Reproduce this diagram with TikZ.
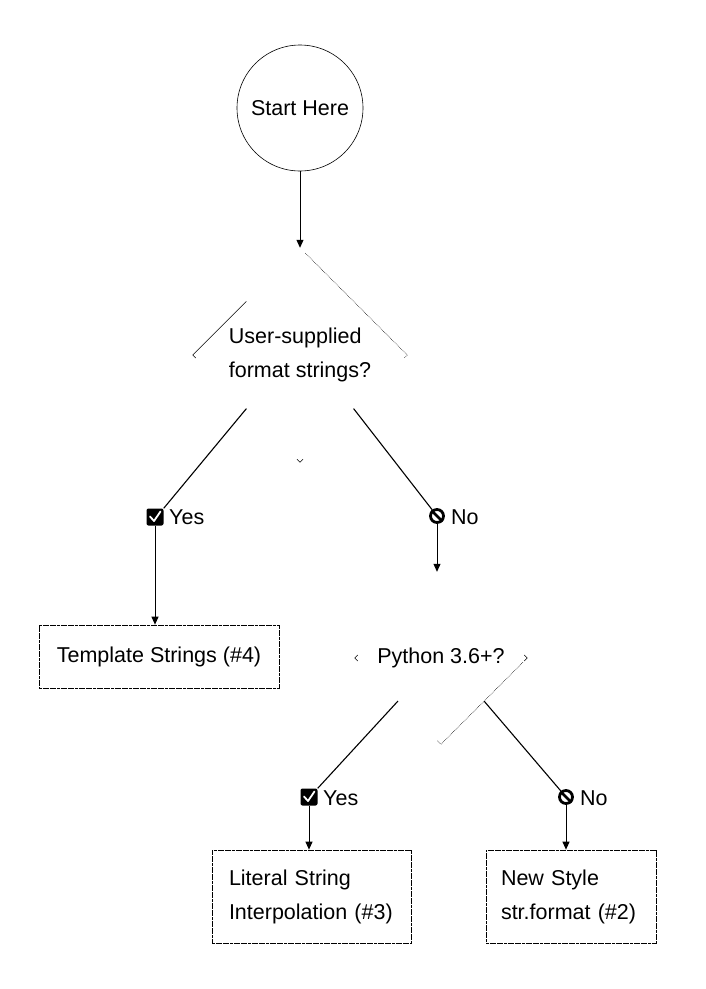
\documentclass[tikz,border=0pt]{standalone}
\usepackage{fontspec}
\setmainfont{Liberation Sans}
\usetikzlibrary{shapes.geometric,arrows.meta,calc}
\begin{document}
\begin{tikzpicture}[x=1pt,y=-1pt,
  txt/.style={font=\fontsize{21.5}{34}\selectfont},
  conn/.style={line width=1.1pt},
  arr/.style={line width=1pt,-{Triangle[length=8pt,width=7pt]}},
  frag/.style={line width=0.5pt},
  dots/.style={line width=0.6pt, densely dotted},
  res/.style={txt, draw, line width=0.7pt, dash pattern=on 3pt off 0.6pt, inner sep=0pt},
  yesicon/.style={fill=black, rounded corners=2pt, minimum size=17pt, inner sep=0pt},
  noicon/.style={circle, draw, line width=2.8pt, minimum size=13pt, inner sep=0pt},
  lbl/.style={txt, inner sep=0pt, anchor=west},
  dec/.style={txt, shape=diamond, inner sep=0pt, align=left},
  chk/.style={white, line width=1.8pt, line cap=round, line join=round},
  slash/.style={line width=2.8pt}
]
\useasboundingbox (0,0) rectangle (706,989);
% start
\node[txt, circle, draw, line width=0.6pt, minimum size=126pt, inner sep=0pt] (start) at (300,108) {Start Here};
% decisions (shape not drawn, only fragments)
\node[dec, minimum width=214pt, minimum height=214pt] (q1) at (300,355) {User-supplied\\format strings?};
\node[dec, minimum width=172pt, minimum height=172pt] (q2) at (441,658) {Python 3.6+?};
% results
\node[res, minimum width=240pt, minimum height=63pt] (t4) at (159,656.5) {Template Strings (\#4)};
\node[res, minimum width=199pt, minimum height=93pt, align=left, text width=165pt] (t3) at (311.5,896.5) {Literal String\\Interpolation (\#3)};
\node[res, minimum width=170pt, minimum height=93pt, align=left, text width=140pt] (t2) at (571,896.5) {New Style\\str.format (\#2)};
% edge labels
\node[yesicon] (y1) at (155,517) {};
\node[lbl] (y1t) at (169,517) {Yes};
\node[noicon] (n1) at (437,516) {};
\node[lbl] (n1t) at (451,517) {No};
\node[yesicon] (y2) at (309,797) {};
\node[lbl] (y2t) at (323,798) {Yes};
\node[noicon] (n2) at (566,797) {};
\node[lbl] (n2t) at (580,798) {No};
% icon details
\foreach \i in {y1,y2}
  \draw[chk] ($(\i.center)+(-5,-0.5)$) -- ++(4,4.5) -- ++(6.5,-9.5);
\foreach \i in {n1,n2}
  \draw[slash] (\i.135) -- (\i.-45);
% fragments of diamond q1
\draw[frag] ($(q1.west)+(3,3)$) -- (q1.west) -- (q1.north west);
\draw[dots] ($(q1.north)!0.05!(q1.east)$) -- (q1.east) -- ++(-3,3);
\draw[frag] ($(q1.south)+(-3,-3)$) -- (q1.south) -- ++(3,-3);
% fragments of diamond q2
\draw[frag] ($(q2.west)+(3,-3)$) -- (q2.west) -- ++(3,3);
\draw[frag] ($(q2.east)+(-3,-3)$) -- (q2.east) -- ++(-3,3);
\draw[dots] ($(q2.east)!0.05!(q2.south)$) -- (q2.south) -- ++(-4,-4);
% connectors
\draw[arr] (start) -- (q1);
\draw[conn] (q1.south west) -- (y1.north east);
\draw[arr] (y1.south) -- (y1.south |- t4.north);
\draw[conn] (q1.south east) -- (n1);
\draw[arr] (n1.south) -- (n1.south |- q2.north);
\draw[conn] (q2.south west) -- (y2.north east);
\draw[arr] (y2.south) -- (y2.south |- t3.north);
\draw[conn] (q2.south east) -- (n2);
\draw[arr] (n2.south) -- (n2.south |- t2.north);
\end{tikzpicture}
\end{document}
